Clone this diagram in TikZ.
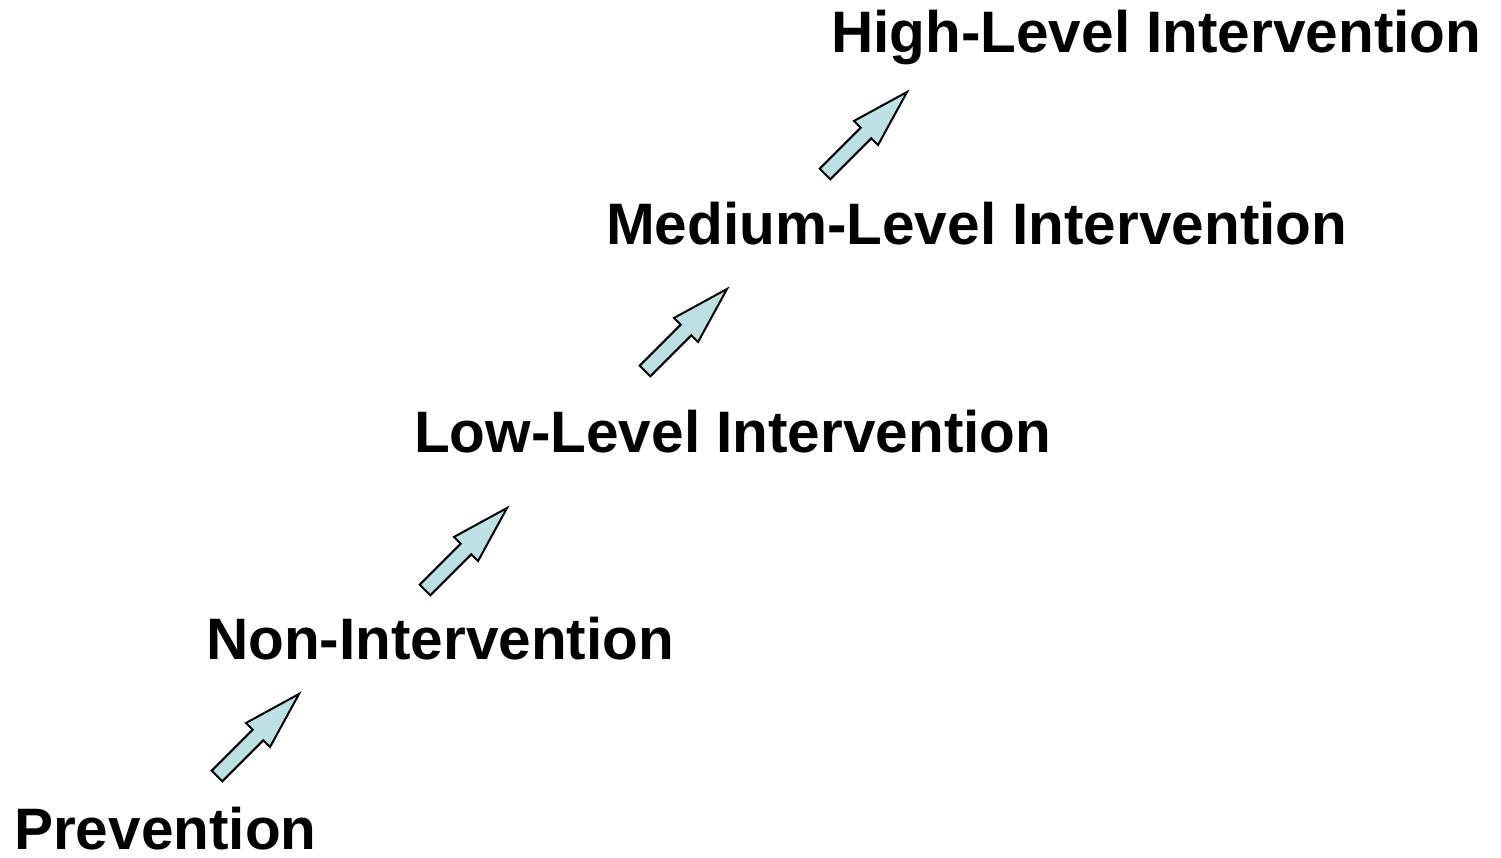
\documentclass[tikz,border=0pt]{standalone}
\usepackage{fontspec}
\setmainfont{Liberation Sans}
\definecolor{arrowfill}{RGB}{189,224,228}
\tikzset{
  lbl/.style={anchor=base west, inner sep=0pt, font=\fontsize{58.5}{70}\selectfont\bfseries},
  arrowstyle/.style={draw=black, fill=arrowfill, line width=2pt, line join=miter},
  fatarrow/.pic={\draw[arrowstyle] (0,-7.5) -- (58,-7.5) -- (58,-17) -- (116,0) -- (58,17) -- (58,7.5) -- (0,7.5) -- cycle;}
}
\begin{document}
\begin{tikzpicture}[x=1pt,y=1pt]
\useasboundingbox (0,0) rectangle (1501,857);
\node[lbl] (prev) at (14,8) {Prevention};
\node[lbl] (non) at (206,197) {Non-Intervention};
\node[lbl] (low) at (414,404) {Low-Level Intervention};
\node[lbl] (med) at (606,612) {Medium-Level Intervention};
\node[lbl] (high) at (831,804) {High-Level Intervention};
\pic[rotate=45] (a1) at (217,81) {fatarrow};
\pic[rotate=45] (a2) at (425,267) {fatarrow};
\pic[rotate=45] (a3) at (645,486) {fatarrow};
\pic[rotate=45] (a4) at (825,683) {fatarrow};
\end{tikzpicture}
\end{document}
